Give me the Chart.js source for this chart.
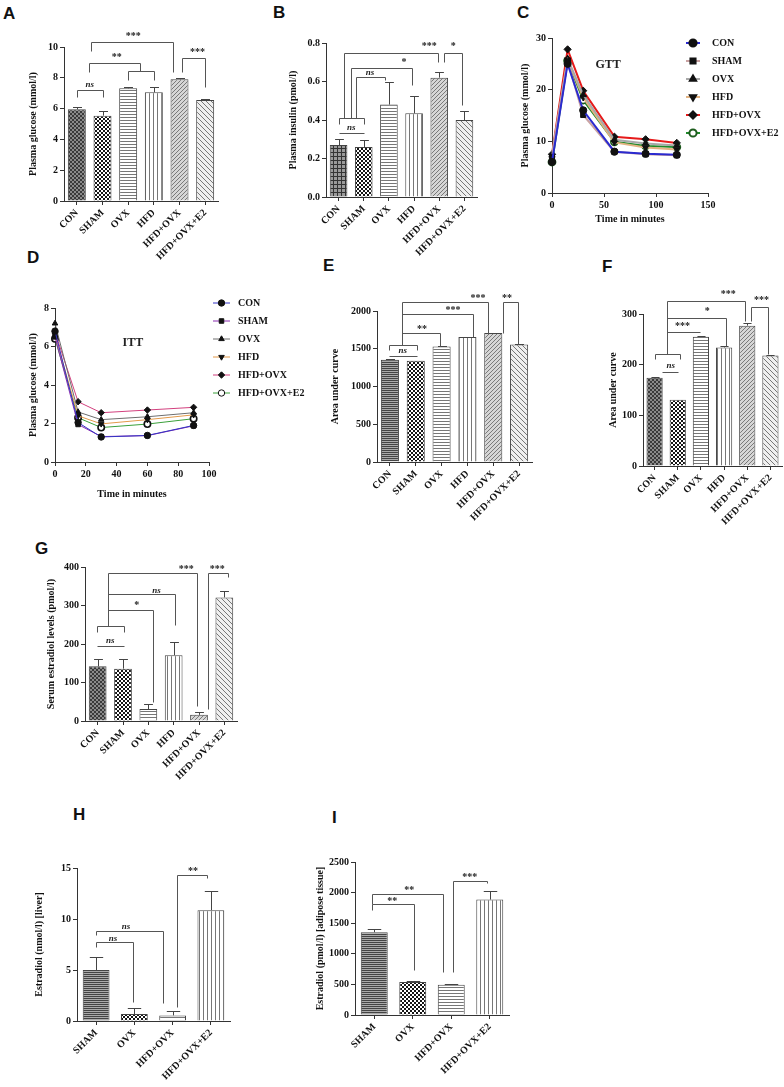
<!DOCTYPE html>
<html>
<head>
<meta charset="utf-8">
<script src="https://cdn.jsdelivr.net/npm/chart.js@4.4.1/dist/chart.umd.min.js"></script>
<style>
  html, body { margin:0; padding:0; background:#fff; }
  body { position:relative; width:784px; height:1087px; overflow:hidden; }
  canvas { position:absolute; }
  .tag { position:absolute; font:bold 17px 'Liberation Sans', Arial, sans-serif; line-height:1; color:#111; }
</style>
</head>
<body>
<div class="tag" style="left:3px;top:5px">A</div>
<div class="tag" style="left:273px;top:4px">B</div>
<div class="tag" style="left:517px;top:4px">C</div>
<div class="tag" style="left:27px;top:249px">D</div>
<div class="tag" style="left:323px;top:257px">E</div>
<div class="tag" style="left:602px;top:258px">F</div>
<div class="tag" style="left:35px;top:540px">G</div>
<div class="tag" style="left:73px;top:806px">H</div>
<div class="tag" style="left:332px;top:809px">I</div>

<script>
// ---- data ----
const groups6 = ["CON","SHAM","OVX","HFD","HFD+OVX","HFD+OVX+E2"];
const groups4 = ["SHAM","OVX","HFD+OVX","HFD+OVX+E2"];

const glucoseMean = [5.95, 5.54, 7.32, 7.06, 7.9, 6.56];
const glucoseErr  = [0.18, 0.3, 0.06, 0.32, 0.07, 0.06];

const insulinMean = [0.27, 0.26, 0.48, 0.435, 0.62, 0.40];
const insulinErr  = [0.03, 0.035, 0.12, 0.09, 0.03, 0.045];

const gttTime      = [0, 15, 30, 60, 90, 120];
const gttCON       = [6.0, 25.0, 16.0, 8.0, 7.6, 7.4];
const gttSHAM      = [7.0, 25.5, 15.1, 8.0, 7.5, 7.3];
const gttOVX       = [7.3, 26.0, 19.0, 10.3, 9.6, 9.2];
const gttHFD       = [7.1, 25.8, 18.5, 9.8, 8.8, 8.4];
const gttHFDOVX    = [7.5, 27.8, 19.8, 10.9, 10.4, 9.7];
const gttHFDOVXE2  = [6.0, 25.6, 18.0, 9.9, 9.1, 8.9];

const ittTime      = [0, 15, 30, 60, 90];
const ittCON       = [6.8, 2.05, 1.3, 1.38, 1.9];
const ittSHAM      = [6.5, 1.95, 1.32, 1.37, 1.88];
const ittOVX       = [7.2, 2.6, 2.2, 2.35, 2.56];
const ittHFD       = [6.6, 2.4, 1.98, 2.2, 2.45];
const ittHFDOVX    = [6.75, 3.13, 2.56, 2.7, 2.84];
const ittHFDOVXE2  = [6.4, 2.3, 1.79, 1.97, 2.25];

const aucGttMean = [1355, 1340, 1530, 1655, 1710, 1555];
const aucGttErr  = [10, 0, 8, 5, 0, 5];

const aucIttMean = [174, 131, 255, 234, 277, 218];
const aucIttErr  = [2, 0, 2, 3, 6, 2];

const serumE2Mean = [142, 136, 31, 171, 16, 321];
const serumE2Err  = [20, 25, 12, 34, 7, 17];

const liverE2Mean = [5.0, 0.68, 0.55, 10.86];
const liverE2Err  = [1.3, 0.62, 0.46, 1.89];

const adiposeE2Mean = [1353, 540, 495, 1886];
const adiposeE2Err  = [55, 12, 18, 136];

// significance brackets: [x1, x2, y, dropLeft, dropRight] (x = category index)
const sigLinesA = [[0,1,7.2,6.75,6.75],[0.47,2.46,8.96,8.4,8.45],[2,3,8.45,7.85,7.85],[0.55,3.75,10.3,9.75,8.4],[4.1,5,9.3,8.4,7.4]];
const sigTextA  = [["ns",0.5,7.53],["**",1.56,9.3],["***",2.2,10.7],["***",4.7,9.62]];
const sigLinesB = [[0,1,0.41,0.38,0.38],[0,1,0.33,null,null],[0.2,3.97,0.75,0.41,0.70],[0.48,2.9,0.67,0.41,0.58],[0.71,1.83,0.625,0.41,0.61],[4.17,4.92,0.75,0.70,0.48]];
const sigTextB  = [["ns",0.5,0.358],["***",3.6,0.78],["*",2.6,0.70],["ns",1.25,0.648],["*",4.56,0.78]];
const sigLinesE = [[-0.05,1.05,1550,1485,1485],[-0.05,1.05,1405,null,null],[0.47,3.8,2120,1550,1700],[0.47,3.22,1960,null,1655],[0.47,1.94,1710,null,1530],[4.38,4.96,2120,1715,1560]];
const sigTextE  = [["ns",0.5,1470],["***",3.41,2170],["***",2.44,2010],["**",1.24,1760],["**",4.53,2170]];
const sigLinesF = [[0,1.08,221,212,212],[0.34,1.03,185,null,null],[0.52,3.92,325,221,286],[0.52,3.1,292,null,236],[0.52,1.94,265,null,null],[4.18,4.91,313,287,221]];
const sigTextF  = [["ns",0.7,198],["***",3.18,338],["*",2.27,305],["***",1.2,276],["***",4.61,326]];
const sigLinesG = [[-0.04,1.02,248,230,230],[-0.04,1.02,196,null,null],[0.39,3.94,385,248,40],[0.39,3.07,330,null,250],[0.39,2.17,289,null,50],[4.37,5.16,385,30,375]];
const sigTextG  = [["ns",0.5,209],["***",3.5,395],["ns",2.32,338],["*",1.54,300],["***",4.72,395]];
const sigLinesH = [[0,1.75,8.8,8.4,1.8],[0,0.97,7.7,7.3,1.9],[2.11,2.9,14.3,1.4,14.0]];
const sigTextH  = [["ns",0.78,9.2],["ns",0.44,8.05],["**",2.53,14.7]];
const sigLinesI = [[-0.05,1.78,1977,1810,700],[-0.05,1.02,1810,1720,735],[2.04,2.92,2190,700,2160]];
const sigTextI  = [["**",0.91,2030],["**",0.47,1855],["***",2.48,2250]];

const SERIF = "'Liberation Serif', 'DejaVu Serif', serif";

// ---- helpers ----
function pattern(kind){
  const c = document.createElement("canvas");
  const size = { checker:4, hlines:3, vlines:4, diagL:5, hdark:2 }[kind] || 4;
  c.width = c.height = size;
  const g = c.getContext("2d");
  const line = (x1,y1,x2,y2) => { g.beginPath(); g.moveTo(x1,y1); g.lineTo(x2,y2); g.stroke(); };
  g.lineWidth = 1;
  if (kind === "dense"){
    g.fillStyle = "#8a8a8a"; g.fillRect(0,0,4,4);
    g.strokeStyle = "#3a3a3a"; line(0,4,4,0); line(0,0,4,4);
  } else if (kind === "grid"){
    g.fillStyle = "#9a9a9a"; g.fillRect(0,0,4,4);
    g.fillStyle = "#333"; g.fillRect(0,0,4,1); g.fillRect(0,0,1,4);
  } else if (kind === "checker"){
    g.fillStyle = "#fff"; g.fillRect(0,0,4,4);
    g.fillStyle = "#151515"; g.fillRect(0,0,2,2); g.fillRect(2,2,2,2);
  } else if (kind === "hlines"){
    g.fillStyle = "#fff"; g.fillRect(0,0,3,3);
    g.fillStyle = "#777"; g.fillRect(0,0,3,1);
  } else if (kind === "vlines"){
    g.fillStyle = "#fff"; g.fillRect(0,0,4,4);
    g.fillStyle = "#777"; g.fillRect(0,0,1,4);
  } else if (kind === "diagR"){
    g.fillStyle = "#d6d6d6"; g.fillRect(0,0,4,4);
    g.strokeStyle = "#7a7a7a"; line(0,4,4,0); line(-1,1,1,-1); line(3,5,5,3);
  } else if (kind === "diagL"){
    g.fillStyle = "#efefef"; g.fillRect(0,0,5,5);
    g.strokeStyle = "#777"; line(0,0,5,5); line(-1,4,1,6); line(4,-1,6,1);
  } else if (kind === "hdark"){
    g.fillStyle = "#aaa"; g.fillRect(0,0,2,2);
    g.fillStyle = "#444"; g.fillRect(0,0,2,1);
  }
  return g.createPattern(c, "repeat");
}

function mount(box){
  const cv = document.createElement("canvas");
  cv.width = box.r - box.l; cv.height = box.b - box.t;
  cv.style.left = box.l + "px"; cv.style.top = box.t + "px";
  cv.style.width = cv.width + "px"; cv.style.height = cv.height + "px";
  document.body.appendChild(cv);
  return cv.getContext("2d");
}

function pad(box, plot){
  return { top: plot.t - box.t, right: box.r - plot.r, left: 0, bottom: 0 };
}

function yLin(box, plot, o){
  return {
    type:"linear", min:o.min, max:o.max,
    ticks:{ stepSize:o.step, color:"#111", padding:2, font:{ family:SERIF, size:10, weight:"bold" },
            callback: o.fmt || (v => v) },
    grid:{ drawOnChartArea:false, tickLength:4, color:"#333" },
    border:{ display:true, color:"#333", width:1 },
    title:{ display:true, text:o.title, color:"#111", padding:{ top:2, bottom:2 },
            font:{ family:SERIF, size:o.titleSize || 10, weight:"bold" } },
    afterFit: s => { s.width = plot.l - box.l; }
  };
}

function xCat(box, plot){
  return {
    type:"category", offset:true,
    ticks:{ color:"#111", padding:2, minRotation:45, maxRotation:45, autoSkip:false,
            font:{ family:SERIF, size:10, weight:"bold" } },
    grid:{ drawOnChartArea:false, offset:false, tickLength:4, color:"#333" },
    border:{ display:true, color:"#333", width:1 },
    afterFit: s => { s.height = box.b - plot.b; }
  };
}

function xLin(box, plot, o){
  return {
    type:"linear", min:o.min, max:o.max,
    ticks:{ stepSize:o.step, color:"#111", padding:2, maxRotation:0, font:{ family:SERIF, size:10, weight:"bold" } },
    grid:{ drawOnChartArea:false, tickLength:4, color:"#333" },
    border:{ display:true, color:"#333", width:1 },
    title:{ display:true, text:o.title, color:"#111", padding:{ top:2, bottom:2 },
            font:{ family:SERIF, size:10, weight:"bold" } },
    afterFit: s => { s.height = box.b - plot.b; }
  };
}

function errBars(errs){
  return {
    id:"errbars",
    afterDatasetsDraw(chart){
      const { ctx } = chart;
      const y = chart.scales.y;
      const vals = chart.data.datasets[0].data;
      ctx.save();
      ctx.strokeStyle = "#444"; ctx.lineWidth = 1;
      chart.getDatasetMeta(0).data.forEach((bar, i) => {
        if (!errs[i]) return;
        const x = Math.round(bar.x) + 0.5;
        const top = Math.round(y.getPixelForValue(vals[i] + errs[i])) + 0.5;
        const w = bar.width * 0.25;
        ctx.beginPath();
        ctx.moveTo(x, bar.y); ctx.lineTo(x, top);
        ctx.moveTo(x - w, top); ctx.lineTo(x + w, top);
        ctx.stroke();
      });
      ctx.restore();
    }
  };
}

function sigMarks(lines, texts){
  return {
    id:"sigmarks",
    afterDraw(chart){
      const { ctx } = chart;
      const { x, y } = chart.scales;
      const px = v => Math.round(x.getPixelForValue(v)) + 0.5;
      const py = v => Math.round(y.getPixelForValue(v)) + 0.5;
      ctx.save();
      ctx.strokeStyle = "#555"; ctx.lineWidth = 1;
      (lines || []).forEach(b => {
        const x1 = px(b[0]), x2 = px(b[1]), yy = py(b[2]);
        ctx.beginPath();
        if (b[3] != null){ ctx.moveTo(x1, py(b[3])); ctx.lineTo(x1, yy); } else ctx.moveTo(x1, yy);
        ctx.lineTo(x2, yy);
        if (b[4] != null) ctx.lineTo(x2, py(b[4]));
        ctx.stroke();
      });
      ctx.fillStyle = "#222"; ctx.textAlign = "center"; ctx.textBaseline = "middle";
      (texts || []).forEach(t => {
        ctx.font = t[3] || (t[0] === "ns" ? "italic bold 9px " + SERIF : "bold 10px " + SERIF);
        ctx.fillText(t[0], x.getPixelForValue(t[1]), y.getPixelForValue(t[2]));
      });
      ctx.restore();
    }
  };
}

function lineLegend(box, pos){
  return {
    id:"linelegend",
    afterDraw(chart){
      const { ctx } = chart;
      const x0 = pos.x - box.l, tx = pos.tx - box.l;
      ctx.save();
      chart.data.datasets.forEach((ds, i) => {
        const yy = pos.y - box.t + i * pos.row;
        ctx.strokeStyle = ds.borderColor; ctx.lineWidth = ds.borderWidth;
        ctx.beginPath(); ctx.moveTo(x0, yy); ctx.lineTo(x0 + pos.len, yy); ctx.stroke();
        ctx.fillStyle = ds.pointBackgroundColor; ctx.strokeStyle = ds.pointBorderColor;
        Chart.helpers.drawPoint(ctx, { pointStyle:ds.pointStyle, rotation:ds.pointRotation || 0,
          radius:ds.pointRadius, borderWidth:ds.pointBorderWidth || 1 }, x0 + pos.len / 2, yy);
        ctx.fillStyle = "#111"; ctx.font = "bold 10px " + SERIF;
        ctx.textAlign = "left"; ctx.textBaseline = "middle";
        ctx.fillText(ds.label, tx, yy);
      });
      ctx.restore();
    }
  };
}

function barChart(box, plot, labels, values, errs, kinds, yo, lines, texts){
  const ctx = mount(box);
  return new Chart(ctx, {
    type:"bar",
    data:{ labels, datasets:[{ data:values, backgroundColor:kinds.map(pattern), borderColor:"#444",
           borderWidth:1, barPercentage:0.7, categoryPercentage:1 }] },
    options:{
      responsive:false, animation:false, devicePixelRatio:1,
      layout:{ padding:pad(box, plot) },
      plugins:{ legend:{ display:false }, tooltip:{ enabled:false } },
      scales:{ x:xCat(box, plot), y:yLin(box, plot, yo) }
    },
    plugins:[ errBars(errs), sigMarks(lines, texts) ]
  });
}

function lineChart(box, plot, times, series, colors, width, radius, xo, yo, legendPos, note){
  const ctx = mount(box);
  const styles = ["circle","rect","triangle","triangle","rectRot","circle"];
  const rots = [0,0,0,180,0,0];
  const datasets = series.map((vals, i) => ({
    label: groups6[i],
    data: times.map((t, k) => ({ x:t, y:vals[k] })),
    borderColor: colors[i], borderWidth: width,
    pointStyle: styles[i], pointRotation: rots[i], pointRadius: radius,
    pointBackgroundColor: i === 5 ? "#fff" : "#111",
    pointBorderColor: i === 5 ? colors.e2Marker : "#111",
    pointBorderWidth: i === 5 ? 1.6 : 1,
    clip: false, tension: 0
  }));
  return new Chart(ctx, {
    type:"line",
    data:{ datasets },
    options:{
      responsive:false, animation:false, devicePixelRatio:1,
      layout:{ padding:pad(box, plot) },
      plugins:{ legend:{ display:false }, tooltip:{ enabled:false } },
      scales:{ x:xLin(box, plot, xo), y:yLin(box, plot, yo) }
    },
    plugins:[ lineLegend(box, legendPos), sigMarks([], [note]) ]
  });
}

// ---- panels ----
const kinds6 = ["dense","checker","hlines","vlines","diagR","diagL"];

// A
barChart({ l:25, t:0, r:236, b:272 }, { l:64, t:47, r:218, b:201 }, groups6, glucoseMean, glucoseErr, kinds6,
  { min:0, max:10, step:2, title:"Plasma glucose (mmol/l)" }, sigLinesA, sigTextA);

// B
barChart({ l:285, t:0, r:492, b:272 }, { l:326, t:43, r:477, b:197 }, groups6, insulinMean, insulinErr,
  ["grid","checker","hlines","vlines","diagR","diagL"],
  { min:0, max:0.8, step:0.2, title:"Plasma insulin (pmol/l)", fmt: v => v.toFixed(1) }, sigLinesB, sigTextB);

// C
const gttColors = ["#2a2ad0","#c9a3a3","#a8a8a8","#e2b382","#e61a1a","#1f8a2a"];
gttColors.e2Marker = "#1d5c1d";
lineChart({ l:517, t:0, r:790, b:227 }, { l:552, t:38, r:708, b:193 }, gttTime,
  [gttCON, gttSHAM, gttOVX, gttHFD, gttHFDOVX, gttHFDOVXE2], gttColors, 2, 3.6,
  { min:0, max:150, step:50, title:"Time in minutes" },
  { min:0, max:30, step:10, title:"Plasma glucose (mmol/l)" },
  { x:686, len:14, tx:712, y:43, row:18 },
  ["GTT", 54, 24.8, "bold 12px " + SERIF]);

// D
const ittColors = ["#3434c4","#8a2cb0","#6e6e6e","#e39a4a","#d2407e","#3aa03a"];
ittColors.e2Marker = "#111";
lineChart({ l:25, t:290, r:305, b:502 }, { l:55, t:308, r:209, b:462 }, ittTime,
  [ittCON, ittSHAM, ittOVX, ittHFD, ittHFDOVX, ittHFDOVXE2], ittColors, 1, 3.2,
  { min:0, max:100, step:20, title:"Time in minutes" },
  { min:0, max:8, step:2, title:"Plasma glucose (mmol/l)" },
  { x:213, len:17, tx:238, y:303, row:18 },
  ["ITT", 50.6, 6.2, "bold 12px " + SERIF]);

// E
barChart({ l:327, t:280, r:548, b:535 }, { l:377, t:311, r:532, b:462 }, groups6, aucGttMean, aucGttErr,
  ["hdark","checker","hlines","vlines","diagR","diagL"],
  { min:0, max:2000, step:500, title:"Area under curve" }, sigLinesE, sigTextE);

// F
barChart({ l:605, t:280, r:800, b:535 }, { l:643, t:314, r:782, b:466 }, groups6, aucIttMean, aucIttErr, kinds6,
  { min:0, max:300, step:100, title:"Area under curve" }, sigLinesF, sigTextF);

// G
barChart({ l:43, t:540, r:252, b:790 }, { l:85, t:567, r:237, b:721 }, groups6, serumE2Mean, serumE2Err, kinds6,
  { min:0, max:400, step:100, title:"Serum estradiol levels (pmol/l)" }, sigLinesG, sigTextG);

// H
barChart({ l:31, t:840, r:248, b:1087 }, { l:77, t:868, r:230, b:1021 }, groups4, liverE2Mean, liverE2Err,
  ["hdark","checker","hlines","vlines"],
  { min:0, max:15, step:5, title:"Estradiol (nmol/l) [liver]" }, sigLinesH, sigTextH);

// I
barChart({ l:312, t:840, r:528, b:1087 }, { l:355, t:862, r:509, b:1015 }, groups4, adiposeE2Mean, adiposeE2Err,
  ["hdark","checker","hlines","vlines"],
  { min:0, max:2500, step:500, title:"Estradiol (pmol/l) [adipose tissue]" }, sigLinesI, sigTextI);
</script>
</body>
</html>
